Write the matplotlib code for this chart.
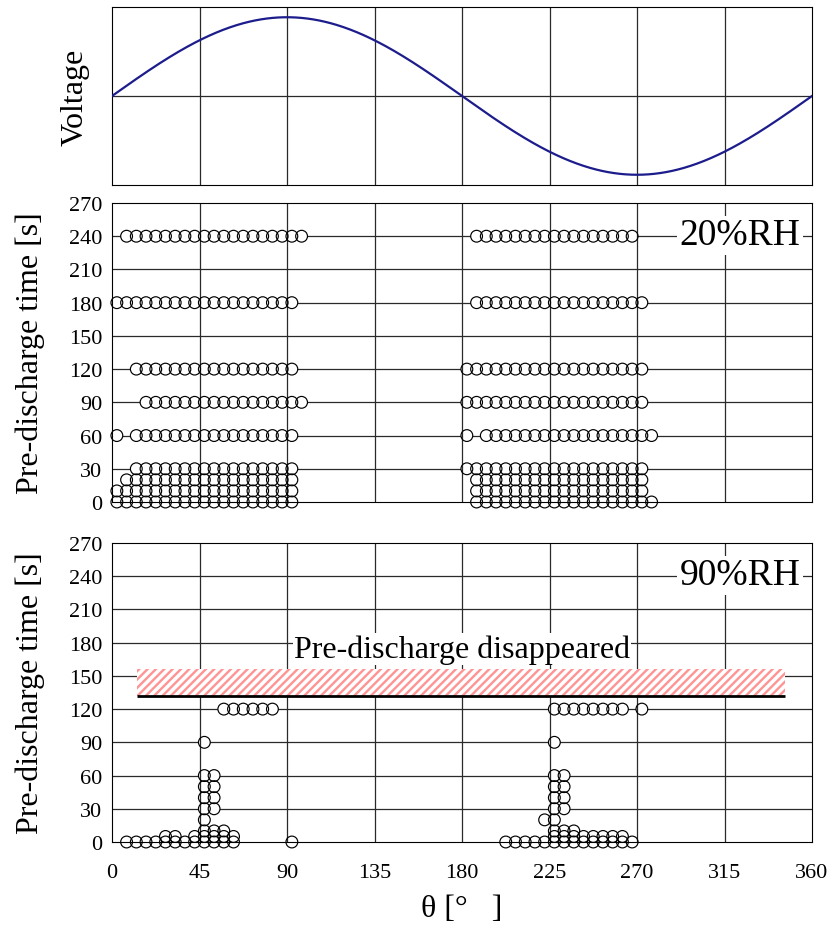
import matplotlib
matplotlib.use("Agg")
import matplotlib.pyplot as plt
import numpy as np
from matplotlib.patches import Rectangle

plt.rcParams["font.family"] = ["Liberation Serif", "DejaVu Serif"]
plt.rcParams["hatch.linewidth"] = 1.7

# ---------------- data ----------------
phase_ticks = [0, 45, 90, 135, 180, 225, 270, 315, 360]
time_ticks = [0, 30, 60, 90, 120, 150, 180, 210, 240, 270]

# 20 %RH : phase angles (deg) of pre-discharge at each elapsed time (s)
dry_0s = [2.5, 7.5, 12.5, 17.5, 22.5, 27.5, 32.5, 37.5, 42.5, 47.5, 52.5, 57.5, 62.5, 67.5, 72.5, 77.5, 82.5, 87.5, 92.5,
          187.5, 192.5, 197.5, 202.5, 207.5, 212.5, 217.5, 222.5, 227.5, 232.5, 237.5, 242.5, 247.5, 252.5, 257.5, 262.5, 267.5, 272.5, 277.5]
dry_10s = [2.5, 7.5, 12.5, 17.5, 22.5, 27.5, 32.5, 37.5, 42.5, 47.5, 52.5, 57.5, 62.5, 67.5, 72.5, 77.5, 82.5, 87.5, 92.5,
           187.5, 192.5, 197.5, 202.5, 207.5, 212.5, 217.5, 222.5, 227.5, 232.5, 237.5, 242.5, 247.5, 252.5, 257.5, 262.5, 267.5, 272.5]
dry_20s = [7.5, 12.5, 17.5, 22.5, 27.5, 32.5, 37.5, 42.5, 47.5, 52.5, 57.5, 62.5, 67.5, 72.5, 77.5, 82.5, 87.5, 92.5,
           187.5, 192.5, 197.5, 202.5, 207.5, 212.5, 217.5, 222.5, 227.5, 232.5, 237.5, 242.5, 247.5, 252.5, 257.5, 262.5, 267.5, 272.5]
dry_30s = [12.5, 17.5, 22.5, 27.5, 32.5, 37.5, 42.5, 47.5, 52.5, 57.5, 62.5, 67.5, 72.5, 77.5, 82.5, 87.5, 92.5,
           182.5, 187.5, 192.5, 197.5, 202.5, 207.5, 212.5, 217.5, 222.5, 227.5, 232.5, 237.5, 242.5, 247.5, 252.5, 257.5, 262.5, 267.5, 272.5]
dry_60s = [2.5, 12.5, 17.5, 22.5, 27.5, 32.5, 37.5, 42.5, 47.5, 52.5, 57.5, 62.5, 67.5, 72.5, 77.5, 82.5, 87.5, 92.5,
           182.5, 192.5, 197.5, 202.5, 207.5, 212.5, 217.5, 222.5, 227.5, 232.5, 237.5, 242.5, 247.5, 252.5, 257.5, 262.5, 267.5, 272.5, 277.5]
dry_90s = [17.5, 22.5, 27.5, 32.5, 37.5, 42.5, 47.5, 52.5, 57.5, 62.5, 67.5, 72.5, 77.5, 82.5, 87.5, 92.5, 97.5,
           182.5, 187.5, 192.5, 197.5, 202.5, 207.5, 212.5, 217.5, 222.5, 227.5, 232.5, 237.5, 242.5, 247.5, 252.5, 257.5, 262.5, 267.5, 272.5]
dry_120s = [12.5, 17.5, 22.5, 27.5, 32.5, 37.5, 42.5, 47.5, 52.5, 57.5, 62.5, 67.5, 72.5, 77.5, 82.5, 87.5, 92.5,
            182.5, 187.5, 192.5, 197.5, 202.5, 207.5, 212.5, 217.5, 222.5, 227.5, 232.5, 237.5, 242.5, 247.5, 252.5, 257.5, 262.5, 267.5, 272.5]
dry_180s = [2.5, 7.5, 12.5, 17.5, 22.5, 27.5, 32.5, 37.5, 42.5, 47.5, 52.5, 57.5, 62.5, 67.5, 72.5, 77.5, 82.5, 87.5, 92.5,
            187.5, 192.5, 197.5, 202.5, 207.5, 212.5, 217.5, 222.5, 227.5, 232.5, 237.5, 242.5, 247.5, 252.5, 257.5, 262.5, 267.5, 272.5]
dry_240s = [7.5, 12.5, 17.5, 22.5, 27.5, 32.5, 37.5, 42.5, 47.5, 52.5, 57.5, 62.5, 67.5, 72.5, 77.5, 82.5, 87.5, 92.5, 97.5,
            187.5, 192.5, 197.5, 202.5, 207.5, 212.5, 217.5, 222.5, 227.5, 232.5, 237.5, 242.5, 247.5, 252.5, 257.5, 262.5, 267.5]

# 90 %RH
wet_0s = [7.5, 12.5, 17.5, 22.5, 27.5, 32.5, 37.5, 42.5, 47.5, 52.5, 57.5, 62.5, 92.5,
          202.5, 207.5, 212.5, 217.5, 222.5, 227.5, 232.5, 237.5, 242.5, 247.5, 252.5, 257.5, 262.5, 267.5]
wet_5s = [27.5, 32.5, 42.5, 47.5, 52.5, 57.5, 62.5,
          227.5, 232.5, 237.5, 242.5, 247.5, 252.5, 257.5, 262.5]
wet_10s = [47.5, 52.5, 57.5, 227.5, 232.5, 237.5]
wet_20s = [47.5, 222.5, 227.5]
wet_30s = [47.5, 52.5, 227.5, 232.5]
wet_40s = [47.5, 52.5, 227.5, 232.5]
wet_50s = [47.5, 52.5, 227.5, 232.5]
wet_60s = [47.5, 52.5, 227.5, 232.5]
wet_90s = [47.5, 227.5]
wet_120s = [57.5, 62.5, 67.5, 72.5, 77.5, 82.5,
            227.5, 232.5, 237.5, 242.5, 247.5, 252.5, 257.5, 262.5, 272.5]

dry_rows = [(0, dry_0s), (10, dry_10s), (20, dry_20s), (30, dry_30s), (60, dry_60s),
            (90, dry_90s), (120, dry_120s), (180, dry_180s), (240, dry_240s)]
wet_rows = [(0, wet_0s), (5, wet_5s), (10, wet_10s), (20, wet_20s), (30, wet_30s), (40, wet_40s),
            (50, wet_50s), (60, wet_60s), (90, wet_90s), (120, wet_120s)]

# region where no pre-discharge was observed (90 %RH)
gap_phase = (13, 346)
gap_time = (132, 156)

# ---------------- figure ----------------
fig = plt.figure(figsize=(8.38, 9.29), dpi=100)
L, W = 112 / 838, 700 / 838
ax_v = fig.add_axes([L, 1 - 186 / 929, W, 178 / 929])
ax_d = fig.add_axes([L, 1 - 503 / 929, W, 299 / 929])
ax_w = fig.add_axes([L, 1 - 843 / 929, W, 299 / 929])

GRID = "#2a2a2a"
FS_LABEL = 23
FS_TICK = 16

# supply voltage waveform
theta = np.linspace(0, 360, 721)
ax_v.plot(theta, np.sin(np.radians(theta)), color="#1c1c8c", lw=1.6, zorder=3)
ax_v.set_xlim(0, 360)
ax_v.set_ylim(-1.13, 1.13)
for x in phase_ticks[1:-1]:
    ax_v.axvline(x, color=GRID, lw=0.9, zorder=1)
ax_v.axhline(0, color=GRID, lw=0.9, zorder=1)
ax_v.set_xticks([])
ax_v.set_yticks([])
ax_v.set_ylabel("Voltage", fontsize=FS_LABEL, labelpad=16)


def scatter_panel(ax, rows, tag, show_x):
    ax.set_xlim(0, 360)
    ax.set_ylim(0, 270)
    ax.set_xticks(phase_ticks)
    ax.set_yticks(time_ticks)
    ax.tick_params(axis="y", length=0, labelsize=FS_TICK, pad=7)
    ax.tick_params(axis="x", length=0, labelsize=FS_TICK, pad=15)
    if not show_x:
        ax.set_xticklabels([])
    for y in time_ticks[1:-1]:
        ax.axhline(y, color=GRID, lw=0.9, zorder=1)
    for x in phase_ticks[1:-1]:
        ax.axvline(x, color=GRID, lw=0.9, zorder=2.5)
    xs = [p for t, ph in rows for p in ph]
    ys = [t for t, ph in rows for p in ph]
    ax.scatter(xs, ys, s=72, facecolor="white", edgecolor="none", zorder=2, clip_on=False)
    ax.scatter(xs, ys, s=72, facecolor="none", edgecolor="black", linewidths=0.85, zorder=3, clip_on=False)
    ax.set_ylabel("Pre-discharge time [s]", fontsize=FS_LABEL, labelpad=17)
    ax.text(354, 241, tag, fontsize=27, ha="right", va="center", zorder=6,
            bbox=dict(facecolor="white", edgecolor="none", pad=1.5))


scatter_panel(ax_d, dry_rows, "20%RH", False)
scatter_panel(ax_w, wet_rows, "90%RH", True)

band = Rectangle((gap_phase[0], gap_time[0]), gap_phase[1] - gap_phase[0], gap_time[1] - gap_time[0],
                 facecolor="white", edgecolor="#ff9494", hatch="////", lw=0, zorder=4)
ax_w.add_patch(band)
ax_w.plot(gap_phase, [gap_time[0], gap_time[0]], color="black", lw=2, zorder=5, solid_capstyle="butt")
ax_w.text(180, 174, "Pre-discharge disappeared", fontsize=FS_LABEL, ha="center", va="center", zorder=6,
          bbox=dict(facecolor="white", edgecolor="none", pad=1.0))
ax_w.set_xlabel("θ [°   ]", fontsize=FS_LABEL, labelpad=9)

fig.savefig("out.png", dpi=100)
